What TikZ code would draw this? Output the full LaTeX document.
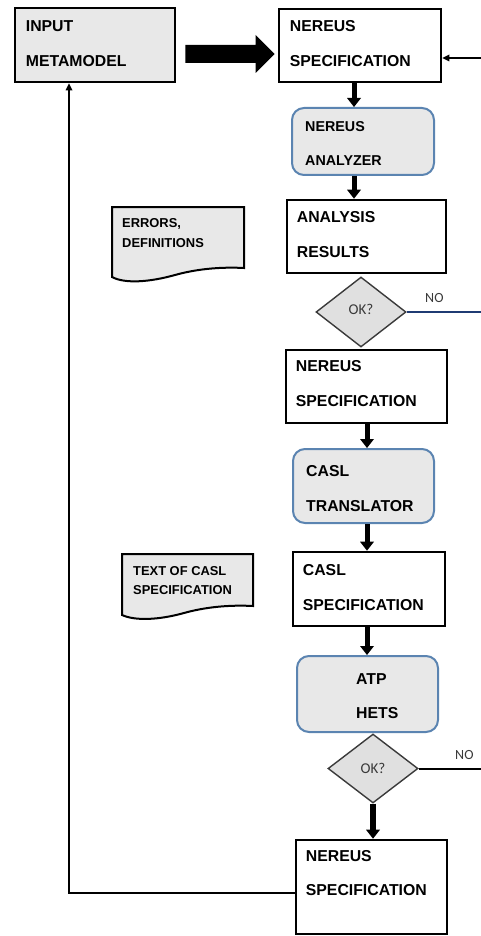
\documentclass[tikz,border=0pt]{standalone}
\usepackage{fontspec}
\setmainfont{Liberation Sans}
\newfontfamily\calib{Carlito}
\usetikzlibrary{arrows.meta,shapes.geometric,calc}
\definecolor{boxgray}{HTML}{E8E8E8}
\definecolor{diagray}{HTML}{E0E0E0}
\definecolor{rblue}{HTML}{5B84B1}
\definecolor{nblue}{HTML}{1F3B73}
\definecolor{dgray}{HTML}{3A3A3A}
\begin{document}
\begin{tikzpicture}[x=1pt,y=-1pt,
  sqbox/.style={draw=black,line width=2.6pt,inner sep=0pt},
  rbox/.style={draw=rblue,line width=2pt,fill=boxgray,rounded corners=12pt,inner sep=0pt},
  dec/.style={diamond,draw=dgray,line width=1.4pt,fill=diagray,inner sep=0pt},
  doc/.style={draw=black,line width=2pt,fill=boxgray},
  lbl/.style={anchor=base west,inner sep=0pt,font=\bfseries\fontsize{15.8}{18}\selectfont},
  albl/.style={lbl,font=\bfseries\fontsize{14.3}{17}\selectfont},
  slbl/.style={lbl,font=\bfseries\fontsize{12.9}{15}\selectfont},
  oklbl/.style={anchor=base,inner sep=0pt,text=dgray,font=\calib\fontsize{15}{17}\selectfont},
  nolbl/.style={anchor=base west,inner sep=0pt,text=dgray,font=\calib\fontsize{14}{16}\selectfont},
  darr/.style={line width=5pt,-{Triangle[length=9pt,width=14pt,line width=0pt]}},
  farr/.style={line width=1.8pt,-{Triangle[length=7pt,width=7pt,line width=0pt]}}]
\useasboundingbox (0,0) rectangle (481,936);

% boxes
\node[sqbox,fill=boxgray,minimum width=160,minimum height=74] (in) at (95,45) {};
\node[sqbox,fill=white,minimum width=162,minimum height=73] (b1) at (360,45.5) {};
\node[rbox,minimum width=142,minimum height=67] (an) at (363,141.5) {};
\node[sqbox,fill=white,minimum width=159,minimum height=73] (res) at (366.5,236.5) {};
\node[dec,minimum width=90,minimum height=70] (d1) at (361,312) {};
\node[sqbox,fill=white,minimum width=161,minimum height=73] (b2) at (366.5,386.5) {};
\node[rbox,minimum width=141,minimum height=74] (tr) at (363.5,486) {};
\node[sqbox,fill=white,minimum width=152,minimum height=74] (cs) at (369,589) {};
\node[rbox,minimum width=141,minimum height=76] (atp) at (367.5,694) {};
\node[dec,minimum width=90,minimum height=69] (d2) at (373,768.5) {};
\node[sqbox,fill=white,minimum width=151,minimum height=94] (fin) at (371.5,887) {};

% documents
\draw[doc] (112,207) -- (244,207) -- (244,268) .. controls (225,267) and (200,268) .. (175,275) .. controls (150,282) and (125,284) .. (112,277) -- cycle;
\draw[doc] (122,554) -- (253,554) -- (253,606) .. controls (234,605) and (209,606) .. (184,613) .. controls (159,620) and (135,621) .. (122,615) -- cycle;

% texts
\node[lbl] (int1) at ($(in.north west)+(12,25)$) {INPUT};
\node[lbl] (int2) at ($(in.north west)+(12,60)$) {METAMODEL};
\node[lbl] (b1t1) at ($(b1.north west)+(12,24)$) {NEREUS};
\node[lbl] (b1t2) at ($(b1.north west)+(12,59)$) {SPECIFICATION};
\node[albl] (ant1) at ($(an.north west)+(14,25)$) {NEREUS};
\node[albl] (ant2) at ($(an.north west)+(14,59)$) {ANALYZER};
\node[lbl] (rest1) at ($(res.north west)+(11,24)$) {ANALYSIS};
\node[lbl] (rest2) at ($(res.north west)+(11,59)$) {RESULTS};
\node[lbl] (b2t1) at ($(b2.north west)+(11,23)$) {NEREUS};
\node[lbl] (b2t2) at ($(b2.north west)+(11,58)$) {SPECIFICATION};
\node[lbl] (trt1) at ($(tr.north west)+(14,28)$) {CASL};
\node[lbl] (trt2) at ($(tr.north west)+(14,63)$) {TRANSLATOR};
\node[lbl] (cst1) at ($(cs.north west)+(11,25)$) {CASL};
\node[lbl] (cst2) at ($(cs.north west)+(11,60)$) {SPECIFICATION};
\node[lbl] (atpt1) at ($(atp.north west)+(60,29)$) {ATP};
\node[lbl] (atpt2) at ($(atp.north west)+(60,63)$) {HETS};
\node[lbl] (fint1) at ($(fin.north west)+(11,23)$) {NEREUS};
\node[lbl] (fint2) at ($(fin.north west)+(11,57)$) {SPECIFICATION};
\node[slbl] (e1) at (122,227) {ERRORS,};
\node[slbl] (e2) at (122,247) {DEFINITIONS};
\node[slbl] (t1) at (133,575) {TEXT OF CASL};
\node[slbl] (t2) at (133,594) {SPECIFICATION};
\node[oklbl] (ok1) at ($(d1.center)+(0,2.5)$) {OK?};
\node[oklbl] (ok2) at ($(d2.center)+(0,4.5)$) {OK?};
\node[nolbl] (no1) at (425,302) {NO};
\node[nolbl] (no2) at (455,759) {NO};

% big arrow
\coordinate (ba0) at ($(in.east)+(9,9)$);
\coordinate (ba1) at ($(b1.west)+(-3,8.5)$);
\fill (ba0) ++(0,-9) -- ($(ba1)+(-19,-9)$) -- ($(ba1)+(-19,-19)$) -- (ba1) -- ($(ba1)+(-19,19)$) -- ($(ba1)+(-19,9)$) -- ($(ba0)+(0,9)$) -- cycle;

% down arrows
\coordinate (xa) at (354,0);
\coordinate (xb) at (367,0);
\draw[darr] (b1.south -| xa) -- (an.north -| xa);
\draw[darr] (an.south -| xa) -- (res.north -| xa);
\draw[darr] (b2.south -| xb) -- (tr.north -| xb);
\draw[darr] (tr.south -| xb) -- (cs.north -| xb);
\draw[darr] (cs.south -| xb) -- (atp.north -| xb);
\draw[darr,line width=6pt] (d2.south) -- (fin.north -| d2.south);

% right side lines
\coordinate (rx) at (481,0);
\coordinate (rin) at (481,58);
\draw[farr] (rin) -- (b1.east |- rin);
\draw[nblue,line width=2pt] (d1.east) -- (d1.east -| rx);
\draw[line width=2pt] (d2.east) -- (d2.east -| rx);

% feedback
\coordinate (fbx) at (69,0);
\draw[farr] ($(fin.west)+(0,6)$) -| (in.south -| fbx);
\end{tikzpicture}
\end{document}
